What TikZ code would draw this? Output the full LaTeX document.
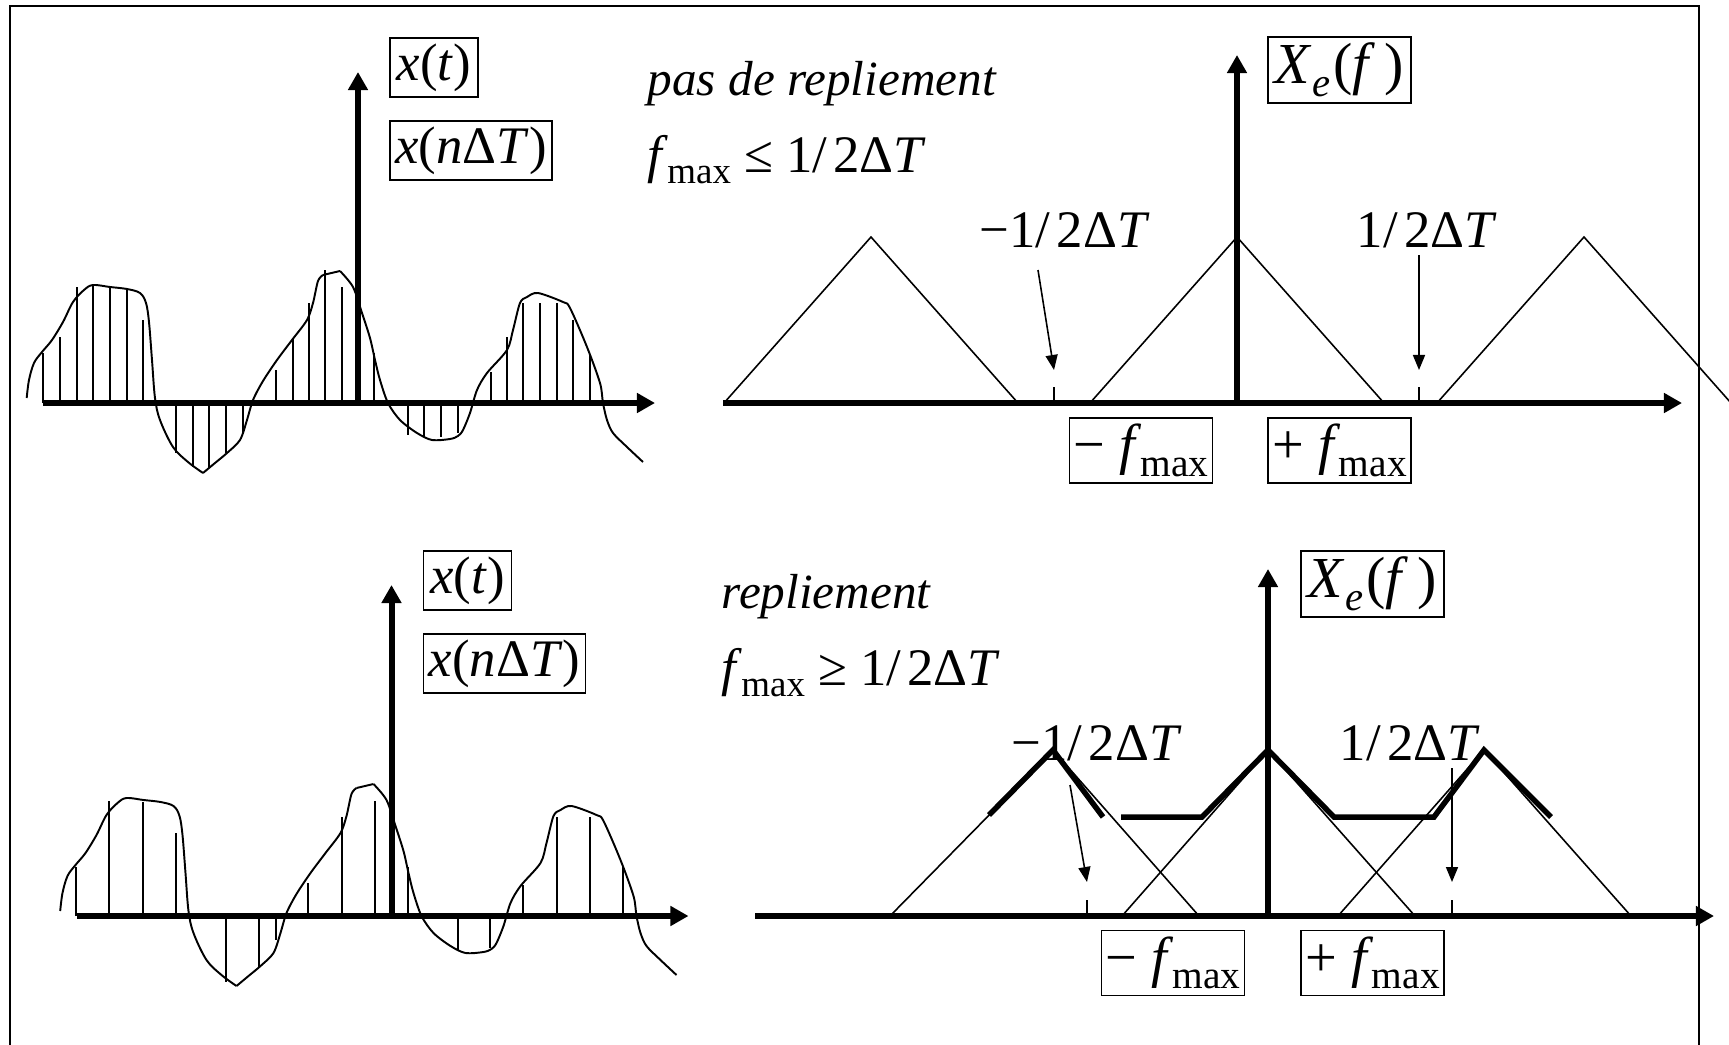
\documentclass[tikz,border=0pt]{standalone}
\usepackage{fontspec}
\usepackage{graphicx}
\setmainfont{Liberation Serif}
\usetikzlibrary{arrows.meta}
\newcommand{\subx}[1]{\raisebox{-0.22em}{\scalebox{0.7}{#1}}}
\newcommand{\fmx}{\textit{f}\kern-0.02em\subx{max}}
\newcommand{\halfT}{1/\kern0.12em2Δ\textit{T}}
\newcommand{\sigcurve}{%
  \draw[sig] plot[smooth,tension=0.55] coordinates {(26.7,398) (29,380) (34,363) (42,352) (52,340) (63,322) (73,302) (84,290) (93,285) (110,287) (127,289) (140,293) (146,303) (149,322) (152,360) (155,398) (160,420) (173,447) (188,462) (203,473)};
  \draw[sig] plot[smooth,tension=0.5] coordinates {(203,473) (215,463) (227,453) (240,440) (247,420) (253,400) (263,381) (277,360) (292,340) (307,320) (313,303) (318,281) (323,275)};
  \draw[sig] (323,275) -- (340,271);
  \draw[sig] plot[smooth,tension=0.5] coordinates {(340,271) (353,287) (362,313) (370,338) (375,360) (380,380) (388,403) (400,420) (417,433) (432,440) (450,439) (458,436) (463,430) (470,413) (477,390) (487,373) (507,350) (513,330) (520,303) (527,297) (538,293) (563,302) (570,308) (587,347) (600,383) (603,403) (607,420) (613,433) (627,447) (643,462)};
}
\begin{document}
\begin{tikzpicture}[x=0.01cm,y=-0.01cm,
  axis/.style={line width=0.06cm,-{Triangle[length=0.18cm,width=0.19cm]}},
  thinln/.style={line width=0.45pt},
  sample/.style={line width=0.6pt},
  sig/.style={line width=0.55pt},
  spec/.style={line width=0.45pt},
  thickspec/.style={line width=0.055cm},
  lbl/.style={inner sep=0pt, anchor=base west, font=\fontsize{15}{18}\selectfont},
  ital/.style={inner sep=0pt, anchor=base west, font=\fontsize{14}{17}\selectfont\itshape},
  box/.style={draw, line width=0.5pt, inner sep=0pt, font=\fontsize{15}{18}\selectfont},
  ptr/.style={line width=0.45pt,-{Triangle[length=0.15cm,width=0.12cm]}},
]
\useasboundingbox (0,0) rectangle (1729,1045);
\draw[line width=0.02cm] (10,1045) -- (10,6) -- (1699,6) -- (1699,1045);

%% ---------- top left: time signal ----------
\coordinate (tlx0) at (43,403);
\coordinate (tlx1) at (655,403);
\coordinate (tly0) at (358,403);
\coordinate (tly1) at (358,72);
\foreach \x/\y in {43/353, 60/337, 77/287, 93/285, 110/288, 127/288, 143/320, 176/453, 193/467, 209/468, 226/453, 243/433, 276/370, 293/338, 309/303, 325/270, 342/287, 374/353, 408/435, 424/437, 441/437, 458/433, 491/372, 507/337, 523/303, 540/303, 557/303, 573/320, 590/355}
  \draw[sample] (\x,403) -- (\x,\y);
\sigcurve
\draw[axis] (tlx0) -- (tlx1);
\draw[axis] (tly0) -- (tly1);
\node[box, minimum width=0.88cm, minimum height=0.59cm] (xt1) at (434,67.5) {\textit{x}(\textit{t})};
\node[box, minimum width=1.62cm, minimum height=0.59cm] (xn1) at (471,150.5) {\textit{x}(\textit{n}Δ\textit{T})};

%% ---------- bottom left: time signal (shifted copy) ----------
\begin{scope}[shift={(33.5,513)}]
\coordinate (blx0) at (43,403);
\coordinate (blx1) at (655,403);
\coordinate (bly0) at (358,403);
\coordinate (bly1) at (358,72);
\foreach \x/\y in {42.5/354, 75.5/288, 109.5/289, 142.5/320, 192.5/469, 225.5/454, 242.5/427, 274.5/370, 308.5/304, 341.5/288, 374.5/354, 424.5/437, 456.5/435, 489.5/372, 523.5/304, 556.5/304, 589.5/354}
  \draw[sample] (\x,403) -- (\x,\y);
\sigcurve
\draw[axis] (blx0) -- (blx1);
\draw[axis] (bly0) -- (bly1);
\node[box, minimum width=0.88cm, minimum height=0.59cm] (xt2) at (434,67.5) {\textit{x}(\textit{t})};
\node[box, minimum width=1.62cm, minimum height=0.59cm] (xn2) at (471,150.5) {\textit{x}(\textit{n}Δ\textit{T})};
\end{scope}

%% ---------- top right: spectrum without aliasing ----------
\node[ital] (pdr) at (647,95) {pas de repliement};
\node[lbl] (cond1) at (647,172) {\fmx\ ≤\ \halfT};
\node[lbl] (mh1) at (979,247) {−\halfT};
\node[lbl] (ph1) at (1356,247) {\halfT};
\draw[spec] (724,403) -- (871,237) -- (1018,403);
\draw[spec] (1090,403) -- (1237,237) -- (1384,403);
\draw[spec] (1437,403) -- (1584,237) -- (1731,403);
\coordinate (tk1) at (1054,387);
\coordinate (tk1b) at (1054,403);
\coordinate (tk2) at (1419,387);
\coordinate (tk2b) at (1419,403);
\draw[thinln] (tk1) -- (tk1b);
\draw[thinln] (tk2) -- (tk2b);
\coordinate (a1s) at (1038,270);
\coordinate (a1e) at (1054,370);
\coordinate (a2s) at (1419,255);
\coordinate (a2e) at (1419,370);
\draw[ptr] (a1s) -- (a1e);
\draw[ptr] (a2s) -- (a2e);
\coordinate (trx0) at (723,403);
\coordinate (trx1) at (1682,403);
\coordinate (try0) at (1237,403);
\coordinate (try1) at (1237,55);
\draw[axis] (trx0) -- (trx1);
\draw[axis] (try0) -- (try1);
\node[box, minimum width=1.43cm, minimum height=0.66cm, font=\fontsize{16.5}{20}\selectfont] (Xe1) at (1339.5,70) {\textit{X}\subx{\textit{e}}\kern0.05em(\textit{f}\,)};
\node[box, minimum width=1.43cm, minimum height=0.65cm, font=\fontsize{16}{19}\selectfont] (fm1) at (1141,450.5) {−\ \fmx};
\node[box, minimum width=1.43cm, minimum height=0.65cm, font=\fontsize{16}{19}\selectfont] (fp1) at (1339.5,450.5) {+\ \fmx};

%% ---------- bottom right: spectrum with aliasing ----------
\node[ital] (rep) at (721,608) {repliement};
\node[lbl] (cond2) at (721,685) {\fmx\ ≥\ \halfT};
\node[lbl] (mh2) at (1011,760) {−\halfT};
\node[lbl] (ph2) at (1339,760) {\halfT};
\draw[spec] (890,916) -- (1053,750) -- (1199,916);
\draw[spec] (1122,916) -- (1268,750) -- (1415,916);
\draw[spec] (1338,916) -- (1484,750) -- (1631,916);
\draw[thickspec] (989,815) -- (1053,750) -- (1103,817);
\draw[thickspec] (1121,817) -- (1202,817) -- (1268,750) -- (1334,817) -- (1434,817) -- (1484,750) -- (1551,817);
\coordinate (tk3) at (1087,900);
\coordinate (tk3b) at (1087,916);
\coordinate (tk4) at (1452,900);
\coordinate (tk4b) at (1452,916);
\draw[thinln] (tk3) -- (tk3b);
\draw[thinln] (tk4) -- (tk4b);
\coordinate (a3s) at (1070,785);
\coordinate (a3e) at (1087,882);
\coordinate (a4s) at (1452,768);
\coordinate (a4e) at (1452,882);
\draw[ptr] (a3s) -- (a3e);
\draw[ptr] (a4s) -- (a4e);
\coordinate (brx0) at (755,916);
\coordinate (brx1) at (1714,916);
\coordinate (bry0) at (1268,916);
\coordinate (bry1) at (1268,569);
\draw[axis] (brx0) -- (brx1);
\draw[axis] (bry0) -- (bry1);
\node[box, minimum width=1.43cm, minimum height=0.66cm, font=\fontsize{16.5}{20}\selectfont] (Xe2) at (1372.5,584) {\textit{X}\subx{\textit{e}}\kern0.05em(\textit{f}\,)};
\node[box, minimum width=1.43cm, minimum height=0.65cm, font=\fontsize{16}{19}\selectfont] (fm2) at (1173,963) {−\ \fmx};
\node[box, minimum width=1.43cm, minimum height=0.65cm, font=\fontsize{16}{19}\selectfont] (fp2) at (1372.5,963) {+\ \fmx};
\end{tikzpicture}
\end{document}
